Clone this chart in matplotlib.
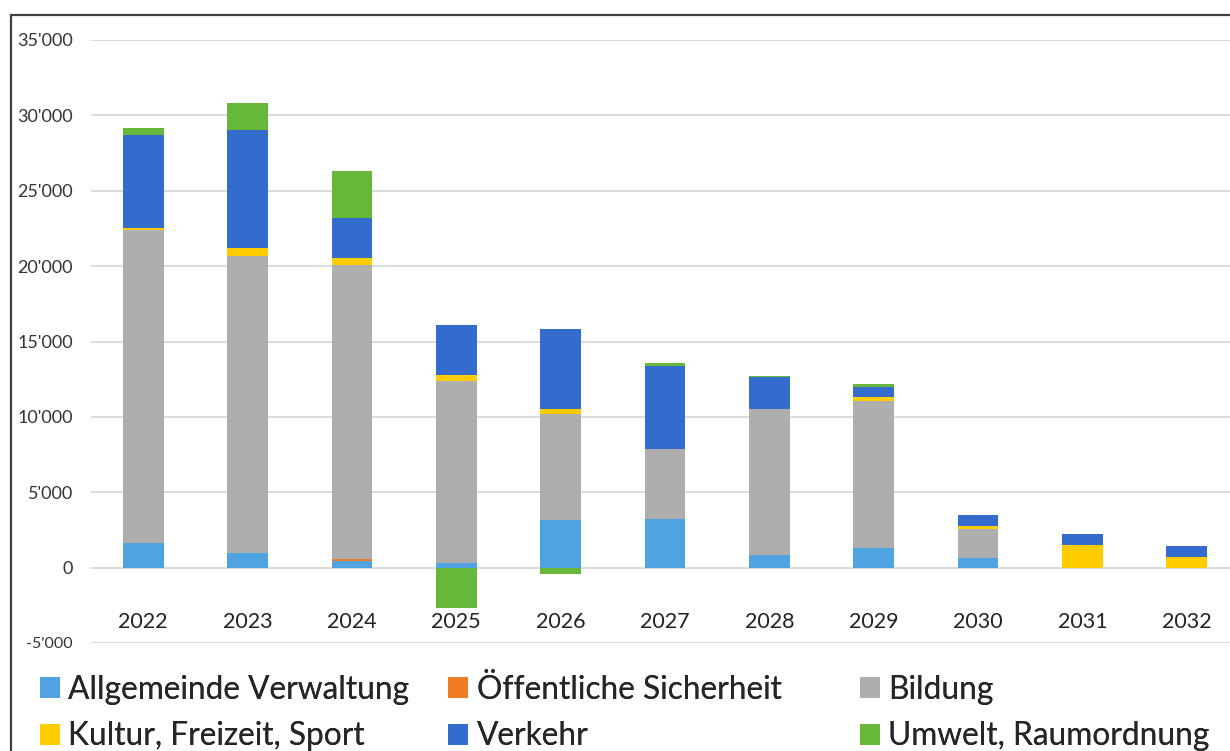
import numpy as np
import matplotlib.pyplot as plt
from matplotlib.patches import Rectangle
from matplotlib.ticker import FuncFormatter

plt.rcParams['font.family'] = ['Lato', 'DejaVu Sans']

# Jahre und Werte (gestapelt)
years = ['2022', '2023', '2024', '2025', '2026', '2027', '2028', '2029', '2030', '2031', '2032']
verwaltung = [1650, 1000, 450, 280, 3160, 3200, 830, 1300, 610, 0, 0]
sicherheit = [0, 0, 130, 0, 30, 30, 0, 0, 0, 0, 0]
bildung = [20750, 19670, 19490, 12075, 6970, 4670, 9710, 9730, 1930, 0, 0]
kultur = [150, 530, 445, 400, 360, 0, 0, 260, 200, 1500, 680]
verkehr = [6120, 7810, 2660, 3325, 5295, 5480, 2080, 710, 730, 710, 730]
umwelt = [510, 1830, 3145, -2650, -410, 170, 115, 180, 0, 0, 0]

series = [
    ('Allgemeinde Verwaltung', verwaltung, '#4FA3E0'),
    ('Öffentliche Sicherheit', sicherheit, '#F07D26'),
    ('Bildung', bildung, '#AEAEAE'),
    ('Kultur, Freizeit, Sport', kultur, '#FFCC00'),
    ('Verkehr', verkehr, '#346CCD'),
    ('Umwelt, Raumordnung', umwelt, '#67B73A'),
]

fig = plt.figure(figsize=(12.3, 7.51), dpi=100)
ax = fig.add_axes([91 / 1230, 1 - 643 / 751, (1239 - 91) / 1230, (643 - 40) / 751])

x = np.arange(len(years))
pos_base = np.zeros(len(years))
neg_base = np.zeros(len(years))
handles = []
for name, vals, col in series:
    v = np.array(vals, dtype=float)
    bottom = np.where(v >= 0, pos_base, neg_base)
    h = ax.bar(x, v, width=0.39, bottom=bottom, color=col, linewidth=0,
               label=name, zorder=3)
    handles.append(h)
    pos_base = pos_base + np.where(v > 0, v, 0)
    neg_base = neg_base + np.where(v < 0, v, 0)

ax.set_xlim(-0.5, 10.5)
ax.set_ylim(-5000, 35000)
ax.set_yticks(np.arange(-5000, 35001, 5000))
ax.yaxis.set_major_formatter(FuncFormatter(lambda v, p: f"{int(v):,}".replace(',', "'")))
ax.grid(axis='y', color='#D9D9D9', linewidth=1.3, zorder=0)
for s in ax.spines.values():
    s.set_visible(False)
ax.tick_params(axis='y', length=0, pad=13, labelsize=13, labelcolor='#333333')
ax.tick_params(axis='x', length=0, pad=-22, labelsize=15.5, labelcolor='#222222')
ax.set_xticks(x)
ax.set_xticklabels(years)
ax.get_yticklabels()[0].set_fontsize(11.5)

# Legende: drei Spalten gleicher Breite
col_x = [40, 448, 860]
for c in range(3):
    idx = [c, c + 3]
    leg = fig.legend([handles[i] for i in idx], [series[i][0] for i in idx],
                     ncol=1, loc='center left',
                     bbox_to_anchor=(col_x[c] / 1230, 1 - 713 / 751),
                     frameon=False, fontsize=22.8, borderpad=0,
                     borderaxespad=0, handlelength=0.62, handleheight=0.62,
                     handletextpad=0.28, labelspacing=0.53,
                     labelcolor='#262626')
    fig.add_artist(leg)

# Rahmen
fig.add_artist(Rectangle((11 / 1230, -0.1), 1.2, (751 - 15) / 751 + 0.1,
                         transform=fig.transFigure, fill=False,
                         edgecolor='#404040', linewidth=1.6))

fig.savefig('out.png', dpi=100)
